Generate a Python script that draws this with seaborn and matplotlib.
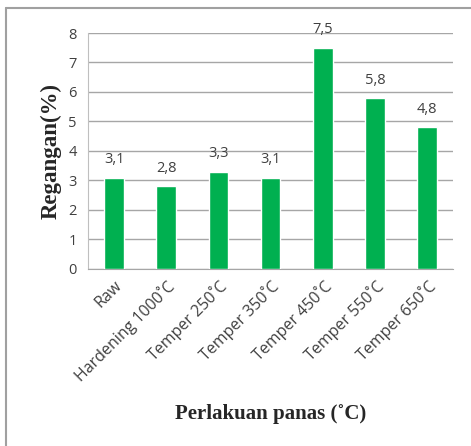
import matplotlib
matplotlib.use("Agg")
import matplotlib.pyplot as plt
from matplotlib.lines import Line2D
import pandas as pd
import seaborn as sn

categories = ["Raw", "Hardening 1000˚C", "Temper 250˚C", "Temper 350˚C",
              "Temper 450˚C", "Temper 550˚C", "Temper 650˚C"]
regangan = [3.1, 2.8, 3.3, 3.1, 7.5, 5.8, 4.8]
y_ticks = [0, 1, 2, 3, 4, 5, 6, 7, 8]

sn.set_style("white")
plt.rcParams['font.family'] = ['Open Sans', 'DejaVu Sans']

df = pd.DataFrame({'perlakuan': categories, 'regangan': regangan})

fig = plt.figure(figsize=(4.71, 4.46), dpi=100)
ax = fig.add_axes([0.187, 0.397, 0.775, 0.529])

sn.barplot(data=df, x='perlakuan', y='regangan', color='#00B050',
           width=0.38, saturation=1, ax=ax, zorder=3)

ax.set_ylim(0, 8)
ax.set_yticks(y_ticks)
ax.set_yticklabels([str(t) for t in y_ticks], fontsize=10.5, color='#404040')
ax.yaxis.grid(True, color='#a6a6a6', linewidth=1, zorder=0)
ax.set_axisbelow(True)
for s in ['top', 'right']:
    ax.spines[s].set_visible(False)
ax.spines['left'].set_color('#bfbfbf')
ax.spines['bottom'].set_color('#a6a6a6')
ax.tick_params(axis='y', length=0, pad=8)
ax.tick_params(axis='x', length=0, pad=6)

ax.set_xticks(range(len(categories)))
ax.set_xticklabels(categories, rotation=45, ha='right', rotation_mode='anchor',
                   fontsize=11.5, color='#404040')

for i, v in enumerate(regangan):
    ax.text(i, v + 0.35, f"{v:.1f}".replace('.', ','), ha='center', va='bottom',
            fontsize=10.5, color='#404040')

ax.set_xlabel('Perlakuan panas (˚C)', fontsize=15, fontweight='bold',
              family=['Liberation Serif', 'DejaVu Serif'], labelpad=14)
ax.set_ylabel('Regangan(%)', fontsize=16.5, fontweight='bold',
              family=['Liberation Serif', 'DejaVu Serif'], labelpad=5)

# outer frame (left and top edges only visible)
fig.add_artist(Line2D([6 / 471, 6 / 471], [0, 1 - 8 / 446], color='#a0a0a0', linewidth=1.5))
fig.add_artist(Line2D([6 / 471, 1], [1 - 8 / 446, 1 - 8 / 446], color='#a0a0a0', linewidth=1.5))

fig.savefig('out.png', dpi=100)
